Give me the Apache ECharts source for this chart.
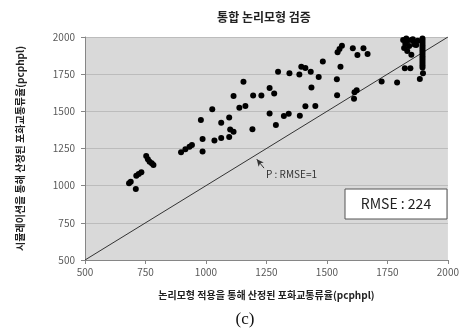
<!DOCTYPE html>
<html>
<head>
<meta charset="utf-8">
<script src="https://cdn.jsdelivr.net/npm/echarts@6/dist/echarts.min.js"></script>
<style>
  html, body { margin: 0; padding: 0; background: #ffffff; }
  #chart { width: 462px; height: 334px; }
</style>
</head>
<body>
<div id="chart"></div>
<script>
// Saturation flow: model estimate (x) vs. simulation result (y), pcphpl
var modelFlow = [
  682, 689, 710, 712, 722, 733,
  753, 760, 767, 776, 783,
  897, 915, 932, 942, 986,
  979, 986, 1026, 1035, 1063, 1063, 1096, 1096, 1100, 1114, 1114, 1138, 1163, 1155,
  1192, 1195, 1229, 1263, 1263, 1282, 1289, 1298,
  1345, 1386, 1394, 1411, 1433, 1466, 1541, 1436, 1542, 1411, 1452, 1322, 1342, 1388,
  1483, 1556, 1544, 1552, 1562, 1607, 1651, 1626, 1668,
  1614, 1623, 1612, 1726, 1790, 1822, 1845, 1884, 1897,
  1815, 1824, 1832, 1840, 1849, 1860, 1869, 1819, 1832, 1849, 1855, 1875, 1828, 1862,
  1895, 1895, 1895, 1895, 1895, 1895, 1895, 1895, 1895, 1895, 1895, 1895, 1895, 1895
];
var simFlow = [
  1016, 1027, 978, 1067, 1078, 1090,
  1200, 1177, 1161, 1150, 1139,
  1225, 1245, 1262, 1274, 1229,
  1442, 1314, 1514, 1304, 1320, 1424, 1327, 1459, 1378, 1362, 1603, 1524, 1536, 1699,
  1380, 1606, 1606, 1657, 1485, 1620, 1408, 1767,
  1756, 1747, 1800, 1791, 1767, 1731, 1715, 1661, 1608, 1534, 1536, 1469, 1484, 1471,
  1836, 1800, 1897, 1919, 1941, 1924, 1924, 1879, 1885,
  1628, 1641, 1585, 1701, 1694, 1790, 1790, 1718, 1756,
  1980, 1955, 1973, 1940, 1980, 1966, 1946, 1926, 1906, 1880, 1985, 1975, 1990, 1950,
  1990, 1975, 1960, 1945, 1930, 1915, 1900, 1885, 1870, 1855, 1840, 1825, 1810, 1795
];
var axisTicks = [500, 750, 1000, 1250, 1500, 1750, 2000];
var rmseValue = 224;

var points = modelFlow.map(function (x, i) { return [x, simFlow[i]]; });
var tMin = axisTicks[0], tMax = axisTicks[axisTicks.length - 1];
var tStep = axisTicks[1] - axisTicks[0];

var FONT = '"Noto Sans CJK KR", "Noto Sans", sans-serif';
var chart = echarts.init(document.getElementById('chart'), null, { renderer: 'canvas' });

var axisCommon = {
  type: 'value', min: tMin, max: tMax, interval: tStep,
  axisLine: { show: true, lineStyle: { color: '#868686', width: 1 } },
  axisTick: { show: true, length: 4, lineStyle: { color: '#868686' } },
  axisLabel: {
    color: '#595959', fontSize: 10, fontFamily: FONT,
    formatter: function (v) { return String(v); }
  },
  nameLocation: 'middle',
  nameTextStyle: { color: '#222', fontSize: 10, fontWeight: 'bold', fontFamily: FONT }
};

chart.setOption({
  animation: false,
  backgroundColor: '#ffffff',
  grid: {
    left: 85, right: 12, top: 37, bottom: 74,
    show: true, backgroundColor: '#d9d9d9', borderWidth: 0
  },
  xAxis: Object.assign({}, axisCommon, {
    name: '논리모형 적용을 통해 산정된 포화교통류율(pcphpl)',
    nameGap: 30,
    splitLine: { show: false },
    axisLabel: Object.assign({}, axisCommon.axisLabel, { margin: 7 })
  }),
  yAxis: Object.assign({}, axisCommon, {
    name: '시뮬레이션을 통해 산정된 포화교통류율(pcphpl)',
    nameGap: 60,
    nameRotate: 90,
    splitLine: { show: true, lineStyle: { color: '#bcbcbc', width: 1 } },
    axisLabel: Object.assign({}, axisCommon.axisLabel, { margin: 10 })
  }),
  series: [
    {
      type: 'line',
      data: [[tMin, tMin], [tMax, tMax]],
      symbol: 'none',
      lineStyle: { color: '#333333', width: 1 },
      z: 2,
      markLine: {
        silent: true,
        symbol: ['none', 'arrow'],
        symbolSize: [5, 7],
        label: { show: false },
        lineStyle: { color: '#333333', width: 1, type: 'solid' },
        data: [[{ coord: [1240, 1118] }, { coord: [1210, 1178] }]]
      }
    },
    {
      type: 'scatter',
      data: points,
      symbol: 'circle',
      symbolSize: 6,
      itemStyle: { color: '#000000', opacity: 1 },
      z: 3
    }
  ],
  graphic: [
    {
      type: 'text', x: 264, y: 17,
      style: {
        text: '통합 논리모형 검증', fill: '#222', fontSize: 12, fontWeight: 'bold',
        fontFamily: FONT, align: 'center', verticalAlign: 'middle'
      }
    },
    {
      type: 'text', x: 266, y: 174,
      style: {
        text: 'P : RMSE=1', fill: '#333', fontSize: 10, fontFamily: FONT,
        align: 'left', verticalAlign: 'middle'
      }
    },
    {
      type: 'group', x: 345, y: 189,
      children: [
        {
          type: 'rect', shape: { x: 0, y: 0, width: 102, height: 30 },
          style: { fill: '#ffffff', stroke: '#555555', lineWidth: 1 }
        },
        {
          type: 'text', x: 51, y: 15,
          style: {
            text: 'RMSE : ' + rmseValue, fill: '#222', fontSize: 14, fontFamily: FONT,
            align: 'center', verticalAlign: 'middle'
          }
        }
      ]
    },
    {
      type: 'text', x: 245, y: 320,
      style: {
        text: '(c)', fill: '#111', fontSize: 17, fontFamily: '"Liberation Serif", "DejaVu Serif", serif',
        align: 'center', verticalAlign: 'middle'
      }
    }
  ]
});
</script>
</body>
</html>
